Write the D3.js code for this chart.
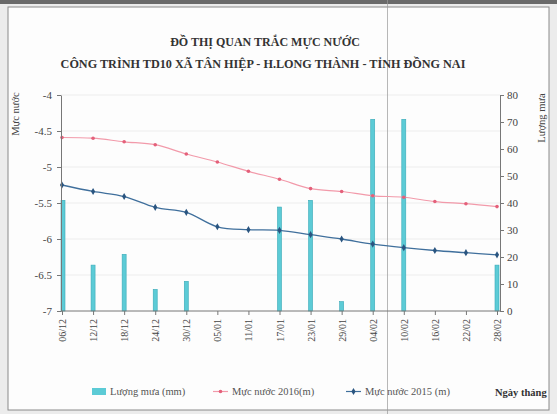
<!DOCTYPE html>
<html><head><meta charset="utf-8">
<script src="https://cdn.jsdelivr.net/npm/d3@7"></script>
<style>
html,body{margin:0;padding:0;background:#ececec;}
svg{display:block;}
text{font-family:"Liberation Serif","Times New Roman",serif;}
</style></head>
<body>
<svg id="c" width="557" height="414"></svg>
<script>
const dates = ["06/12","12/12","18/12","24/12","30/12","05/01","11/01","17/01","23/01","29/01","04/02","10/02","16/02","22/02","28/02"];
const rain = [41, 17, 21, 8, 11, 0, 0, 38.5, 41, 3.5, 71, 71, 0, 0, 17];
const level2016 = [-4.59, -4.60, -4.65, -4.69, -4.82, -4.93, -5.06, -5.17, -5.30, -5.34, -5.40, -5.42, -5.48, -5.51, -5.55];
const level2015 = [-5.25, -5.34, -5.41, -5.56, -5.63, -5.83, -5.87, -5.88, -5.94, -6.00, -6.07, -6.12, -6.16, -6.19, -6.22];
const leftTicks = [-4, -4.5, -5, -5.5, -6, -6.5, -7];
const rightTicks = [0, 10, 20, 30, 40, 50, 60, 70, 80];
const title1 = "ĐỒ THỊ QUAN TRẮC MỰC NƯỚC";
const title2 = "CÔNG TRÌNH TD10 XÃ TÂN HIỆP - H.LONG THÀNH - TỈNH ĐỒNG NAI";

const svg = d3.select("#c");
// scanned edge
svg.append("rect").attr("x",0).attr("y",0).attr("width",557).attr("height",4).attr("fill","#6a6a6a");
svg.append("rect").attr("x",8).attr("y",7).attr("width",541).attr("height",403)
  .attr("fill","#fdfdfd").attr("stroke","#8a8a8a").attr("stroke-width",1);

const x = d3.scalePoint().domain(dates).range([62, 497]);
const yL = d3.scaleLinear().domain([-7, -4]).range([311, 95]);
const yR = d3.scaleLinear().domain([0, 80]).range([311, 95]);

// gridlines
svg.append("g").selectAll("line").data(leftTicks.slice(0, -1)).join("line")
  .attr("x1", 61).attr("x2", 500).attr("y1", d => yL(d)).attr("y2", d => yL(d))
  .attr("stroke", "#ededed").attr("stroke-width", 1);

// scan fold line
svg.append("line").attr("x1",387.5).attr("x2",387.5).attr("y1",0).attr("y2",414)
  .attr("stroke","#9a9a9a").attr("stroke-width",1).attr("opacity",0.7);

// bars
const bw = 4;
svg.append("g").selectAll("rect").data(rain.map((v,i)=>({d:dates[i],v}))).join("rect")
  .filter(d => d.v > 0)
  .attr("x", d => Math.max(61, x(d.d) - bw/2))
  .attr("width", bw)
  .attr("y", d => yR(d.v))
  .attr("height", d => 311 - yR(d.v))
  .attr("fill", "#5ccbd6").attr("stroke", "#3aaab8").attr("stroke-width", 0.6);

// lines
const line = d3.line().x((v,i)=>x(dates[i])).y(v=>yL(v)).curve(d3.curveCatmullRom);
svg.append("path").datum(level2016).attr("d", line).attr("fill","none")
  .attr("stroke","#f29aaa").attr("stroke-width",1.2);
svg.append("path").datum(level2015).attr("d", line).attr("fill","none")
  .attr("stroke","#3f6f9c").attr("stroke-width",1.3);
svg.append("g").selectAll("circle").data(level2016).join("circle")
  .attr("cx",(v,i)=>x(dates[i])).attr("cy",v=>yL(v)).attr("r",1.8).attr("fill","#e4607a");
svg.append("g").selectAll("path").data(level2015).join("path")
  .attr("transform",(v,i)=>`translate(${x(dates[i])},${yL(v)})`)
  .attr("d", d3.symbol(d3.symbolDiamond, 15)).attr("fill","#2a5580");

// axes
const axL = svg.append("g").attr("transform","translate(61,0)")
  .call(d3.axisLeft(yL).tickValues(leftTicks).tickSize(4).tickSizeOuter(0).tickFormat(d=>String(d)));
const axR = svg.append("g").attr("transform","translate(500,0)")
  .call(d3.axisRight(yR).tickValues(rightTicks).tickSize(4).tickSizeOuter(0));
[axL, axR].forEach(a => {
  a.select(".domain").attr("stroke","#777");
  a.selectAll(".tick line").attr("stroke","#777");
  a.selectAll(".tick text").attr("font-family","Liberation Serif").attr("font-size",11).attr("fill","#444");
});
axL.selectAll(".tick text").attr("x",-9);
axR.selectAll(".tick text").attr("x",7);

const axB = svg.append("g").attr("transform","translate(0,311)")
  .call(d3.axisBottom(x).tickSize(4).tickSizeOuter(0));
axB.select(".domain").remove();
axB.append("line").attr("x1",61).attr("x2",500).attr("y1",0).attr("y2",0).attr("stroke","#777");
axB.selectAll(".tick line").attr("stroke","#777");
axB.selectAll(".tick text").attr("font-family","Liberation Serif").attr("font-size",10).attr("fill","#444")
  .attr("transform","rotate(-90)").attr("text-anchor","end").attr("x",-8).attr("y",0).attr("dy","0.35em");

// titles
svg.append("text").attr("x",265).attr("y",46).attr("text-anchor","middle")
  .attr("font-weight","bold").attr("font-size",12).attr("fill","#333").text(title1);
svg.append("text").attr("x",263).attr("y",68).attr("text-anchor","middle")
  .attr("font-weight","bold").attr("font-size",12.2).attr("fill","#333").text(title2);
svg.append("text").attr("transform","translate(19,114) rotate(-90)").attr("text-anchor","middle")
  .attr("font-size",10.5).attr("fill","#444").text("Mực nước");
svg.append("text").attr("transform","translate(545,118) rotate(-90)").attr("text-anchor","middle")
  .attr("font-size",10.5).attr("fill","#444").text("Lượng mưa");

// legend
const lg = svg.append("g");
lg.append("rect").attr("x",92).attr("y",388).attr("width",14).attr("height",7).attr("fill","#5ccbd6");
lg.append("text").attr("x",110).attr("y",395).attr("font-size",10.5).attr("fill","#555").text("Lượng mưa (mm)");
lg.append("line").attr("x1",213).attr("x2",228).attr("y1",391.5).attr("y2",391.5).attr("stroke","#f29aaa").attr("stroke-width",1.2);
lg.append("circle").attr("cx",220.5).attr("cy",391.5).attr("r",1.8).attr("fill","#e4607a");
lg.append("text").attr("x",232).attr("y",395).attr("font-size",10.5).attr("fill","#555").text("Mực nước 2016(m)");
lg.append("line").attr("x1",346).attr("x2",361).attr("y1",391.5).attr("y2",391.5).attr("stroke","#3f6f9c").attr("stroke-width",1.2);
lg.append("path").attr("transform","translate(353.5,391.5)").attr("d",d3.symbol(d3.symbolDiamond,15)).attr("fill","#2a5580");
lg.append("text").attr("x",365).attr("y",395).attr("font-size",10.5).attr("fill","#555").text("Mực nước 2015 (m)");
lg.append("text").attr("x",495).attr("y",396).attr("font-size",10.5).attr("font-weight","bold").attr("fill","#333").text("Ngày tháng");
</script>
</body></html>
